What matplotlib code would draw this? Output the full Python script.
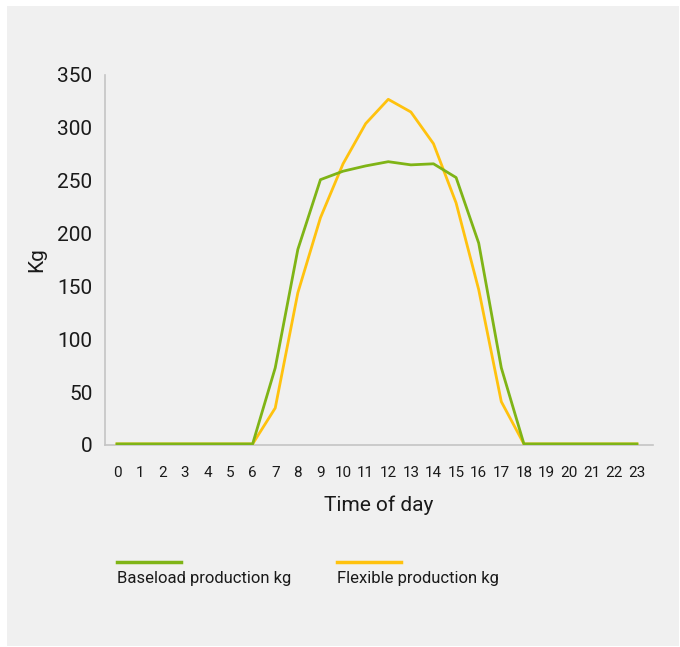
import matplotlib
matplotlib.use("Agg")
import matplotlib.pyplot as plt
from matplotlib.lines import Line2D
from matplotlib.patches import Rectangle

plt.rcParams["font.family"] = ["Roboto", "DejaVu Sans"]

# --- Data ---
hours = list(range(24))
hour_labels = [str(h) for h in hours]
baseload = [1, 1, 1, 1, 1, 1, 1, 73, 185, 251, 259, 264, 268, 265, 266, 253, 191, 73,
            1, 1, 1, 1, 1, 1]
flexible = [1, 1, 1, 1, 1, 1, 1, 35, 144, 215, 266, 304, 327, 315, 285, 229, 147, 41,
            1, 1, 1, 1, 1, 1]
y_ticks = [0, 50, 100, 150, 200, 250, 300, 350]

green = "#7fb416"
yellow = "#ffc20e"
panel = "#f0f0f0"
text_col = "#1a1a1a"

fig = plt.figure(figsize=(6.8, 6.47), dpi=100)
fig.patch.set_facecolor("white")
# grey background panel
fig.patches.append(Rectangle((7 / 680, 1 - 646 / 647), 672 / 680, 640 / 647,
                             transform=fig.transFigure, facecolor=panel,
                             edgecolor="none", zorder=-5))

ax = fig.add_axes([105 / 680, 1 - 445 / 647, 548 / 680, 370 / 647])
ax.set_zorder(2)
ax.set_facecolor(panel)

ax.plot(hours, flexible, color=yellow, lw=2.0, zorder=3)
ax.plot(hours, baseload, color=green, lw=2.0, zorder=4)

ax.set_xlim(-0.53, 23.71)
ax.set_ylim(0, 350)
ax.set_xticks(hours)
ax.set_xticklabels(hour_labels, fontsize=11, color=text_col)
ax.set_yticks(y_ticks)
ax.set_yticklabels([str(v) for v in y_ticks], fontsize=15, color=text_col)
ax.tick_params(axis="both", length=0)
ax.tick_params(axis="x", pad=15)
ax.tick_params(axis="y", pad=9)

for side in ["top", "right"]:
    ax.spines[side].set_visible(False)
for side in ["left", "bottom"]:
    ax.spines[side].set_color("#c4c4c4")
    ax.spines[side].set_linewidth(1.2)

ax.set_xlabel("Time of day", fontsize=15, color=text_col, labelpad=11)
ax.set_ylabel("Kg", fontsize=15, color=text_col, labelpad=8)

# --- Legend (lines above the labels) ---
fig.add_artist(Line2D([117 / 680, 181 / 680], [1 - 562 / 647, 1 - 562 / 647],
                      color=green, lw=2.5, transform=fig.transFigure))
fig.add_artist(Line2D([337 / 680, 401 / 680], [1 - 562 / 647, 1 - 562 / 647],
                      color=yellow, lw=2.5, transform=fig.transFigure))
fig.text(117 / 680, 1 - 578 / 647, "Baseload production kg", fontsize=12,
         color=text_col, va="center", ha="left")
fig.text(337 / 680, 1 - 578 / 647, "Flexible production kg", fontsize=12,
         color=text_col, va="center", ha="left")

fig.savefig("out.png", dpi=100, facecolor="white")
